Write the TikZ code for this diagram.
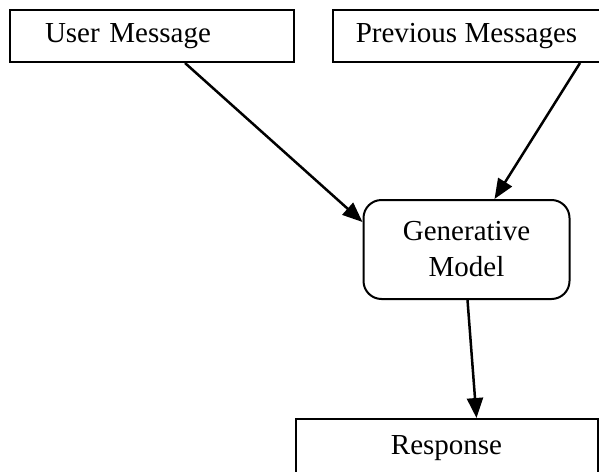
\documentclass[tikz,border=0pt]{standalone}
\usepackage{fontspec}
\setmainfont{Liberation Serif}
\usetikzlibrary{arrows.meta,positioning}

\begin{document}
\begin{tikzpicture}[x=1pt,y=-1pt,->,>={Triangle[length=20pt,width=16pt]},line width=2.5pt,
			node distance=36pt]
			\tikzstyle{box}=[draw=black,line width=2pt,fill=white,inner sep=0pt,minimum height=52pt,
			font=\fontsize{29}{36}\selectfont]
			\useasboundingbox (0,0) rectangle (599,471);
			\node[box, minimum width=284pt, text width=214pt, align=left]    (um) at (152,36)    {User Message};
			\node[box, minimum width=267pt]    (pm)[right=37pt of um]		{Previous Messages};
			\node[box, rounded corners=18pt, minimum width=206pt, minimum height=99pt, align=center]    (gm)[below=136pt of pm]		{Generative\\Model};
			\node[box, minimum width=302pt, minimum height=58pt]    (resp)[below=118pt of gm, xshift=-20pt]		{Response};
			
			\draw ([xshift=33pt]um.south) -- ([yshift=27.5pt]gm.west);
			\draw ([xshift=113.5pt]pm.south) -- ([xshift=28pt]gm.north);
			\draw ([xshift=1pt]gm.south) -- ([xshift=30pt]resp.north);
			
			\end{tikzpicture}
\end{document}
